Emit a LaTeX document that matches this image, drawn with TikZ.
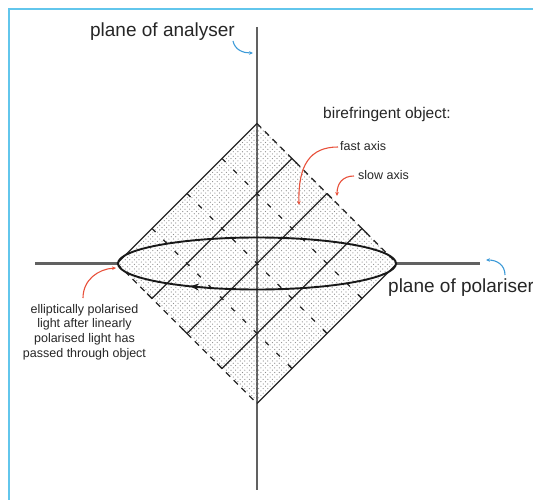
\documentclass[tikz,border=0pt]{standalone}
\usepackage{fontspec}
\setmainfont{Liberation Sans}
\usetikzlibrary{patterns,arrows.meta,calc}
\definecolor{frameblue}{HTML}{62C6EC}
\definecolor{arrred}{HTML}{E8503A}
\definecolor{arrblue}{HTML}{3C9AD8}
\pgfdeclarepatternformonly{stip}{\pgfpoint{-0.1pt}{-0.1pt}}{\pgfpoint{4.7pt}{4.7pt}}{\pgfpoint{4.6pt}{4.6pt}}{%
  \pgfpathcircle{\pgfpoint{1pt}{1pt}}{0.6pt}%
  \pgfpathcircle{\pgfpoint{3.3pt}{3.3pt}}{0.6pt}%
  \pgfusepath{fill}%
}
\tikzset{
  axisline/.style={draw=black!62, line width=2.2pt},
  gridsolid/.style={draw=black!85, line width=1.3pt},
  griddash/.style={draw=black!85, line width=1.3pt, dash pattern=on 5pt off 11pt},
  edgedash/.style={draw=black!85, line width=1.3pt, dash pattern=on 6pt off 5pt},
  redarr/.style={draw=arrred, line width=1.1pt, -{Stealth[length=4pt,width=3.6pt]}},
  bluearr/.style={draw=arrblue, line width=1.1pt, -{Stealth[length=4pt,width=3.6pt]}},
  lbl/.style={inner sep=0pt, text=black!85},
}
\begin{document}
\begin{tikzpicture}[x=1pt,y=-1pt]
\useasboundingbox (0,0) rectangle (533,500);
% frame
\draw[frameblue, line width=2.6pt] (9,500) -- (9,9) -- (533,9);
% diamond corners
\coordinate (T) at (257,123.5);
\coordinate (B) at (257,403.5);
\coordinate (L) at (117,263.5);
\coordinate (R) at (397,263.5);
\coordinate (C) at (257,263.5);
% axes
\coordinate (VA1) at (257,27);
\coordinate (VA2) at (257,490);
\coordinate (HA1) at (35,263.5);
\coordinate (HA2) at (480,263.5);
\coordinate (EL) at (118,263.5);
\coordinate (ER) at (396,263.5);
\draw[axisline] (VA1) -- (VA2);
\draw[axisline] (HA1) -- (EL);
\draw[axisline] (ER) -- (HA2);
% stippled object
\fill[pattern=stip, pattern color=black!45] (T) -- (R) -- (B) -- (L) -- cycle;
% edges
\draw[gridsolid] (L) -- (T);
\draw[gridsolid] (B) -- (R);
\draw[edgedash] (T) -- (R);
\draw[edgedash] (L) -- (B);
% interior solid lines (fast axis direction)
\foreach \k in {1,2,3}{
  \coordinate (P\k) at ($(T)!\k/4!(R)$);
  \coordinate (Q\k) at ($(L)!\k/4!(B)$);
  \draw[gridsolid] (Q\k) -- (P\k);
  \draw[gridsolid] (P\k) -- ($(P\k)!7pt!(R)$);
  \draw[gridsolid] (Q\k) -- ($(Q\k)!7pt!(L)$);
}
% interior dashed lines (slow axis direction)
\foreach \j in {1,2,3}{
  \coordinate (U\j) at ($(T)!\j/4!(L)$);
  \coordinate (V\j) at ($(R)!\j/4!(B)$);
  \draw[griddash] (U\j) -- (V\j);
  \draw[gridsolid] (V\j) -- ($(V\j)!5pt!(U\j)$);
}
% ellipse of polarised light
\draw[black!90, line width=1.9pt] (C) ellipse [x radius=139pt, y radius=26pt];
\coordinate (EA1) at (206,287.6);
\coordinate (EA2) at (190,286.3);
\draw[black!90, line width=1.2pt, -{Stealth[length=9pt,width=7pt]}] (EA1) -- (EA2);
% labels
\node[lbl, anchor=base, font=\fontsize{19}{22}\selectfont] (anl) at (162.5,37) {plane of analyser};
\node[lbl, anchor=base west, font=\fontsize{19}{22}\selectfont] (pol) at (388,292) {plane of polariser};
\node[lbl, anchor=base west, font=\fontsize{15.5}{18}\selectfont] (bir) at (323,118.5) {birefringent object:};
\node[lbl, anchor=base west, font=\fontsize{12.5}{15}\selectfont] (fast) at (340,150.5) {fast axis};
\node[lbl, anchor=base west, font=\fontsize{12.5}{15}\selectfont] (slow) at (358,179) {slow axis};
\node[lbl, anchor=north, align=center, font=\fontsize{12.5}{14.7}\selectfont] (ell) at (84.5,303.8)
  {elliptically polarised\\light after linearly\\polarised light has\\passed through object};
% annotation arrows
\coordinate (aS) at (233,41);
\coordinate (aE) at (253,53);
\draw[bluearr] (aS) .. controls (235,50) and (243,53) .. (aE);
\coordinate (pS) at (505,275);
\coordinate (pE) at (486,260);
\draw[bluearr] (pS) .. controls (505,265) and (497,260) .. (pE);
\coordinate (fS) at (338,147);
\coordinate (fE) at (299,205);
\draw[redarr] (fS) .. controls (310,147) and (298,165) .. (fE);
\coordinate (sS) at (354,176);
\coordinate (sE) at (337,196);
\draw[redarr] (sS) .. controls (343,176) and (337,183) .. (sE);
\coordinate (eS) at (83,298);
\coordinate (eE) at (116,268);
\draw[redarr] (eS) .. controls (83,280) and (98,269) .. (eE);
\end{tikzpicture}
\end{document}
